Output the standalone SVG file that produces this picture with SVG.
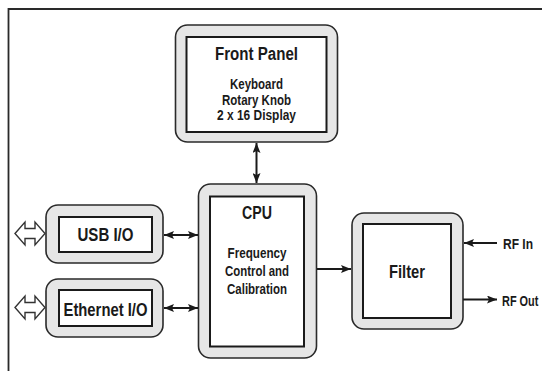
<svg xmlns="http://www.w3.org/2000/svg" width="542" height="371" viewBox="0 0 542 371">
<defs>
<marker id="ah" viewBox="0 0 10 8" refX="10" refY="4" markerWidth="10" markerHeight="8" markerUnits="userSpaceOnUse" orient="auto-start-reverse">
<path d="M0,0 L10,4 L0,8 L2,4 Z" fill="#1a1a1a"/>
</marker>
<style>
.outer{fill:#e6e6e6;stroke:#2a2a2a;stroke-width:1.6}
.inner{fill:#ffffff;stroke:#1a1a1a;stroke-width:2}
.t{font-family:"Liberation Sans Narrow","Liberation Sans",Arial,sans-serif;font-weight:bold;fill:#1a1a1a;text-anchor:middle}
.h{font-size:18px}
.s{font-size:14px}
.c{stroke:#1a1a1a;stroke-width:2;fill:none}
.hollow{fill:#ffffff;stroke:#333;stroke-width:1.4;stroke-linejoin:miter}
</style>
</defs>
<rect width="542" height="371" fill="#ffffff"/>
<path d="M8.5,371 L8.5,9 L542,9" fill="none" stroke="#2a2a2a" stroke-width="1.8"/>

<g id="front-panel">
<rect class="outer" x="175.5" y="25" width="162" height="117" rx="12"/>
<rect class="inner" x="186.5" y="37" width="140" height="95"/>
<text class="t h" x="256.5" y="60" textLength="83" lengthAdjust="spacingAndGlyphs">Front Panel</text>
<text class="t s" x="256.5" y="88.5" textLength="53" lengthAdjust="spacingAndGlyphs">Keyboard</text>
<text class="t s" x="256.5" y="104.5" textLength="69" lengthAdjust="spacingAndGlyphs">Rotary Knob</text>
<text class="t s" x="256.5" y="120" textLength="79" lengthAdjust="spacingAndGlyphs">2 x 16 Display</text>
</g>

<g id="cpu">
<rect class="outer" x="198.5" y="184" width="118" height="174" rx="12"/>
<rect class="inner" x="210" y="196.5" width="94" height="150"/>
<text class="t h" x="257" y="219" textLength="30" lengthAdjust="spacingAndGlyphs">CPU</text>
<text class="t s" x="257" y="258" textLength="59" lengthAdjust="spacingAndGlyphs">Frequency</text>
<text class="t s" x="257" y="276" textLength="64" lengthAdjust="spacingAndGlyphs">Control and</text>
<text class="t s" x="257" y="294" textLength="60" lengthAdjust="spacingAndGlyphs">Calibration</text>
</g>

<g id="usb-io">
<rect class="outer" x="46" y="205" width="117" height="58" rx="12"/>
<rect class="inner" x="59" y="217" width="93" height="35"/>
<text class="t h" x="105.5" y="241" textLength="56" lengthAdjust="spacingAndGlyphs">USB I/O</text>
</g>

<g id="ethernet-io">
<rect class="outer" x="46" y="279" width="117" height="58" rx="12"/>
<rect class="inner" x="59" y="290" width="93" height="36"/>
<text class="t h" x="105.5" y="315.5" textLength="84" lengthAdjust="spacingAndGlyphs">Ethernet I/O</text>
</g>

<g id="filter">
<rect class="outer" x="352" y="213" width="111" height="116" rx="12"/>
<rect class="inner" x="363" y="224" width="88" height="94"/>
<text class="t h" x="407" y="278" textLength="36" lengthAdjust="spacingAndGlyphs">Filter</text>
</g>

<g id="rf-in-label">
<text class="t s" x="503" y="248.5" style="text-anchor:start" textLength="30" lengthAdjust="spacingAndGlyphs">RF In</text>
</g>
<g id="rf-out-label">
<text class="t s" x="0" y="0" style="text-anchor:start" transform="translate(502,306) scale(0.78,1)">RF Out</text>
</g>

<g id="connectors">
<line class="c" x1="256.5" y1="143" x2="256.5" y2="183" marker-start="url(#ah)" marker-end="url(#ah)"/>
<line class="c" x1="164" y1="235" x2="198" y2="235" marker-start="url(#ah)" marker-end="url(#ah)"/>
<line class="c" x1="164" y1="308" x2="198" y2="308" marker-start="url(#ah)" marker-end="url(#ah)"/>
<line class="c" x1="317" y1="269" x2="351" y2="269" marker-end="url(#ah)"/>
<line class="c" x1="497" y1="243" x2="464" y2="243" marker-end="url(#ah)"/>
<line class="c" x1="463" y1="299.5" x2="497" y2="299.5" marker-end="url(#ah)"/>
<path class="hollow" d="M15,233.5 L25,222 L25,228.5 L35,228.5 L35,222 L45,233.5 L35,245 L35,238.5 L25,238.5 L25,245 Z"/>
<path class="hollow" d="M15,307.5 L25,296 L25,302.5 L35,302.5 L35,296 L45,307.5 L35,319 L35,312.5 L25,312.5 L25,319 Z"/>
</g>
</svg>
